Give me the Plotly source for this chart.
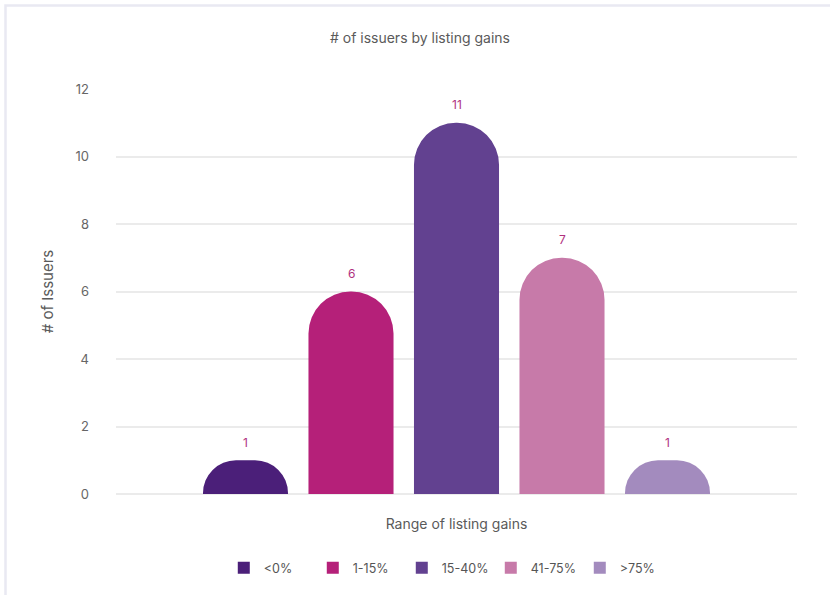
import plotly.graph_objects as go

# Listing-gain buckets and issuer counts
categories = ["<0%", "1-15%", "15-40%", "41-75%", ">75%"]
issuers = [1, 6, 11, 7, 1]
colors = ["#4b1f79", "#b52079", "#624190", "#c77aa9", "#a38bbe"]
y_ticks = [0, 2, 4, 6, 8, 10, 12]

W, H = 830, 595
ML, MR, MT, MB = 116, 33, 89, 101
PW, PH = W - ML - MR, H - MT - MB

FONT = "Inter"

fig = go.Figure()
# rounded-top bars (legend handled by plain square swatches below)
for cat, val, col in zip(categories, issuers, colors):
    fig.add_trace(go.Bar(
        x=[cat], y=[val], name=cat, showlegend=False,
        marker=dict(color=col, cornerradius="50%", line=dict(width=0)),
        width=0.806,
    ))

# square legend swatches
for cat, col in zip(categories, colors):
    fig.add_trace(go.Bar(
        x=[cat], y=[None], name=cat, showlegend=True,
        marker=dict(color=col, line=dict(width=0)),
        hoverinfo="skip",
    ))

# value labels above each bar
for cat, val in zip(categories, issuers):
    fig.add_annotation(
        x=cat, y=val, text=str(val), showarrow=False,
        yanchor="middle", yshift=18,
        font=dict(family=FONT, size=12, color="#b0307e"),
    )

# light card frame around the chart
def px_x(p):
    return (p - ML) / PW

def px_y(p):
    return (H - MB - p) / PH

fig.add_shape(
    type="rect", xref="paper", yref="paper",
    x0=px_x(5.5), x1=px_x(840), y0=px_y(605), y1=px_y(5.5),
    line=dict(color="#e9e9f2", width=2.5), layer="below",
)

fig.update_layout(
    width=W, height=H,
    margin=dict(l=ML, r=MR, t=MT, b=MB),
    paper_bgcolor="white", plot_bgcolor="white",
    barmode="overlay",
    font=dict(family=FONT, color="#666666"),
    title=dict(
        text="# of issuers by listing gains",
        x=0.506, xref="container", xanchor="center",
        y=1 - 38 / H, yref="container", yanchor="middle",
        font=dict(family=FONT, size=14, color="#5a5a5a"),
    ),
    xaxis=dict(
        type="category", categoryorder="array", categoryarray=categories,
        range=[-1.2275, 5.2275],
        showticklabels=False, showgrid=False, zeroline=False, showline=False,
        title=dict(text="Range of listing gains", standoff=25,
                   font=dict(family=FONT, size=14, color="#5a5a5a")),
    ),
    yaxis=dict(
        range=[0, 12], tickvals=y_ticks,
        showgrid=True, gridcolor="#ebebeb", gridwidth=1.5,
        zeroline=True, zerolinecolor="#ebebeb", zerolinewidth=1.5,
        showline=False, ticks="", ticklabelstandoff=26,
        tickfont=dict(family=FONT, size=13, color="#666666"),
        title=dict(text="# of Issuers", standoff=18,
                   font=dict(family=FONT, size=15, color="#5a5a5a")),
    ),
    legend=dict(
        orientation="h", x=0.485, xanchor="center",
        y=px_y(568), yanchor="middle",
        font=dict(family=FONT, size=12.5, color="#555555"),
        traceorder="normal",
        entrywidth=44, entrywidthmode="pixels",
    ),
    bargap=0.2,
)

fig.write_html("out.html")
